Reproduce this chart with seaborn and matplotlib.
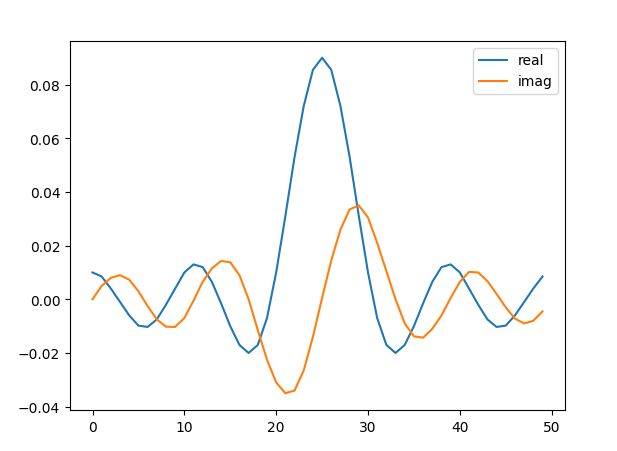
import matplotlib
matplotlib.use("Agg")
import matplotlib.pyplot as plt
import seaborn as sns
import numpy as np

index = list(range(50))
real = [0.010, 0.0085, 0.004, -0.001, -0.006, -0.0098, -0.0103, -0.0075, -0.002, 0.004,
        0.010, 0.013, 0.012, 0.0065, -0.0015, -0.010, -0.017, -0.020, -0.017, -0.007,
        0.010, 0.031, 0.053, 0.072, 0.0855, 0.090, 0.0855, 0.072, 0.053, 0.031,
        0.010, -0.007, -0.017, -0.020, -0.017, -0.010, -0.0015, 0.0065, 0.012, 0.013,
        0.010, 0.004, -0.002, -0.0075, -0.0103, -0.0098, -0.006, -0.001, 0.004, 0.0085]
imag = [0.000, 0.005, 0.008, 0.009, 0.0073, 0.003, -0.0025, -0.0075, -0.0102, -0.0103,
        -0.007, -0.0005, 0.0065, 0.0115, 0.0143, 0.0138, 0.009, 0.000, -0.0115, -0.0225,
        -0.031, -0.035, -0.034, -0.0265, -0.014, 0.0005, 0.0145, 0.026, 0.0335, 0.035,
        0.0305, 0.021, 0.0105, 0.000, -0.009, -0.0138, -0.0143, -0.011, -0.006, 0.0005,
        0.0065, 0.0102, 0.010, 0.0068, 0.002, -0.003, -0.0072, -0.009, -0.008, -0.0045]
labels = ["real", "imag"]

fig = plt.figure(figsize=(6.17, 4.52), dpi=100)
ax = fig.add_axes([70/617, 1 - 411/452, (565-70)/617, (411-42)/452])
sns.lineplot(x=index, y=real, ax=ax, label=labels[0], color="C0")
sns.lineplot(x=index, y=imag, ax=ax, label=labels[1], color="C1")
ax.legend(loc="upper right")
fig.savefig("out.png", dpi=100)
